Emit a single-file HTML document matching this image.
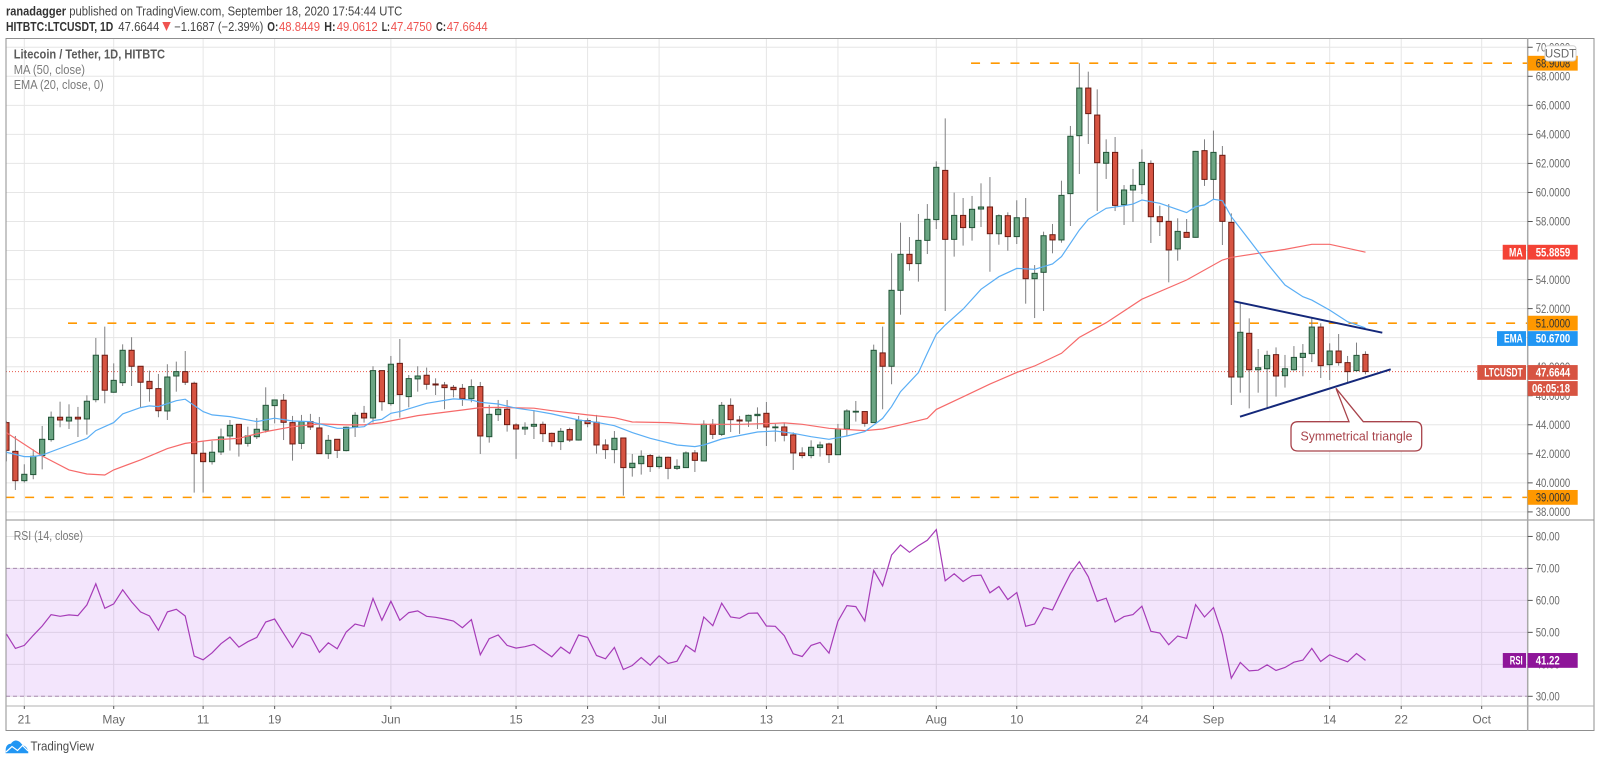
<!DOCTYPE html>
<html lang="en">
<head>
<meta charset="utf-8">
<title>LTCUSDT chart</title>
<style>
html,body{margin:0;padding:0;background:#fff;width:1600px;height:763px;overflow:hidden}
svg{display:block;filter:blur(.25px)}
text{font-family:"Liberation Sans",sans-serif}
</style>
</head>
<body>
<svg id="chart" xmlns="http://www.w3.org/2000/svg" width="1600" height="763" viewBox="0 0 1600 763">
<defs><clipPath id="plot-clip"><rect x="6.5" y="38.5" width="1521" height="481"/></clipPath></defs>
<g id="grid"></g>
<g id="rsi-band-layer"></g>
<g id="levels" clip-path="url(#plot-clip)"></g>
<g id="candles" clip-path="url(#plot-clip)"></g>
<g id="indicators" clip-path="url(#plot-clip)"></g>
<g id="rsi-layer"></g>

<g>
  <line x1="1234" y1="301.3" x2="1382.3" y2="332.7" stroke="#14287a" stroke-width="2"/>
  <line x1="1240" y1="416.7" x2="1390.7" y2="369.3" stroke="#14287a" stroke-width="2"/>
  <path d="M1298 421.7H1349L1336 388.3L1363.3 421.7H1414.7Q1421.7 421.7 1421.7 428.7V444Q1421.7 451 1414.7 451H1298Q1291 451 1291 444V428.7Q1291 421.7 1298 421.7Z" fill="#fff" stroke="#a8434b" stroke-width="1.3"/>
  <text x="1300.5" y="440.6" font-size="13" fill="#a8434b" textLength="112" lengthAdjust="spacingAndGlyphs">Symmetrical triangle</text>
</g>

<g id="frame" fill="none" stroke="#8f8f8f">
  <rect x="6" y="38.5" width="1588" height="692"/>
  <line x1="6" y1="520" x2="1594" y2="520"/>
  <line x1="6" y1="706" x2="1594" y2="706" stroke="#b0b0b0"/>
  <line x1="1527.7" y1="38.5" x2="1527.7" y2="730.5" stroke="#a8a8a8" stroke-width="1.5"/>
</g>
<g id="axes"></g>
<g id="value-labels"></g>

<g font-size="12.5">
  <text x="6" y="15.5" font-weight="bold" fill="#333" textLength="60" lengthAdjust="spacingAndGlyphs">ranadagger</text>
  <text x="69.3" y="15.5" fill="#444" textLength="333" lengthAdjust="spacingAndGlyphs">published on TradingView.com, September 18, 2020 17:54:44 UTC</text>
  <text x="6" y="30.8" font-weight="bold" fill="#333" textLength="107.3" lengthAdjust="spacingAndGlyphs">HITBTC:LTCUSDT, 1D</text>
  <text x="118.3" y="30.8" fill="#444" textLength="41" lengthAdjust="spacingAndGlyphs">47.6644</text>
  <polygon points="162.3,22 170.7,22 166.5,31" fill="#ef5350"/>
  <text x="174.3" y="30.8" fill="#444" textLength="89" lengthAdjust="spacingAndGlyphs">−1.1687 (−2.39%)</text>
  <text x="267.3" y="30.8" font-weight="bold" fill="#333" textLength="11" lengthAdjust="spacingAndGlyphs">O:</text>
  <text x="279" y="30.8" fill="#ef5350" textLength="41" lengthAdjust="spacingAndGlyphs">48.8449</text>
  <text x="324.3" y="30.8" font-weight="bold" fill="#333" textLength="11.3" lengthAdjust="spacingAndGlyphs">H:</text>
  <text x="336.7" y="30.8" fill="#ef5350" textLength="41" lengthAdjust="spacingAndGlyphs">49.0612</text>
  <text x="381.7" y="30.8" font-weight="bold" fill="#333" textLength="8.3" lengthAdjust="spacingAndGlyphs">L:</text>
  <text x="390.7" y="30.8" fill="#ef5350" textLength="41.3" lengthAdjust="spacingAndGlyphs">47.4750</text>
  <text x="436" y="30.8" font-weight="bold" fill="#333" textLength="10" lengthAdjust="spacingAndGlyphs">C:</text>
  <text x="446.7" y="30.8" fill="#ef5350" textLength="41" lengthAdjust="spacingAndGlyphs">47.6644</text>
</g>

<g font-size="12.5">
  <text x="13.7" y="58.5" font-weight="bold" fill="#5a5a5a" textLength="151.3" lengthAdjust="spacingAndGlyphs">Litecoin / Tether, 1D, HITBTC</text>
  <text x="13.7" y="73.8" fill="#7a7a7a" textLength="71.3" lengthAdjust="spacingAndGlyphs">MA (50, close)</text>
  <text x="13.7" y="89.2" fill="#7a7a7a" textLength="90" lengthAdjust="spacingAndGlyphs">EMA (20, close, 0)</text>
  <text x="13.7" y="540.2" fill="#7a7a7a" textLength="69.3" lengthAdjust="spacingAndGlyphs">RSI (14, close)</text>
</g>

<g>
  <path d="M5.7 753.3V749.5C6 745.5 8.5 743.5 11 743.8C12.5 741 15.5 739.8 18 741C20.5 741.8 21.5 744.5 23.5 745.5C26.5 746.5 28.3 749.5 28.3 753.3Z" fill="#2196f3"/>
  <path d="M6 752L12 746.5L17.5 750.5L22.5 745.5L28 751" fill="none" stroke="#fff" stroke-width="1.2"/>
  <text x="30.5" y="750.5" font-size="13" fill="#4a4a4a" textLength="63.5" lengthAdjust="spacingAndGlyphs">TradingView</text>
</g>

<script>
// Daily candles from Apr 19 to Sep 18 2020
const firstDay = -2;
const opens = [
44.15,42.17,40.15,40.57,41.88,42.98,44.52,44.26,44.52,44.40,
45.73,48.79,46.24,46.90,49.13,48.03,46.99,46.49,44.95,47.36,
47.66,46.86,42.04,41.46,42.13,43.23,44.03,42.72,43.18,43.64,
45.32,45.69,44.15,42.72,44.22,43.78,42.01,43.00,42.22,43.85,
44.79,44.47,47.73,45.46,48.23,45.94,47.16,47.41,46.81,46.74,
46.58,46.51,45.80,46.63,43.18,44.70,
45.07,43.99,43.71,43.90,44.03,43.41,42.84,43.67,42.95,44.29,
44.17,42.61,42.29,43.09,41.05,41.32,41.88,41.12,41.76,41.00,
41.05,42.06,41.51,44.03,43.34,45.34,44.33,44.26,44.63,44.79,
43.83,43.85,43.30,42.06,41.88,42.43,42.68,41.94,43.71,44.91,
44.91,44.15,48.95,48.03,
53.26,55.74,55.10,56.70,58.13,61.52,56.77,58.42,57.58,58.86,
59.00,57.16,58.40,56.96,58.26,54.06,54.50,57.09,56.73,59.92,
63.91,67.19,65.33,62.01,62.76,59.16,60.17,60.54,62.00,58.33,
58.01,56.11,57.25,56.91,62.88,60.90,62.56,
57.94,47.29,50.30,47.79,47.86,48.83,47.38,47.79,48.64,48.90,
50.73,48.14,49.08,48.28,47.73,48.8449];
const highs = [
44.28,43.23,41.28,42.31,43.92,44.91,45.59,45.41,45.23,46.03,
49.98,50.76,48.23,49.54,50.03,48.03,47.73,47.50,48.17,48.35,
49.08,46.97,42.89,42.89,43.74,44.33,44.03,43.87,44.47,46.58,
45.71,46.12,44.61,44.68,44.75,44.54,43.30,43.00,43.87,44.86,
45.30,48.03,47.73,48.74,49.91,47.43,48.03,47.94,47.20,46.95,
46.74,46.81,47.13,46.95,45.37,45.71,
45.71,44.10,44.17,45.02,44.22,43.46,43.78,43.80,44.61,44.45,
44.68,43.00,43.57,43.09,41.99,42.24,41.99,41.88,41.81,41.62,
42.17,42.26,44.31,44.40,45.57,45.82,44.61,44.70,45.20,45.57,
44.06,44.10,43.48,42.45,42.93,42.84,42.77,44.06,45.07,45.64,
44.91,49.52,50.76,55.81,
57.92,56.93,58.52,59.20,62.14,65.10,59.99,59.62,59.76,60.63,
61.06,58.49,58.63,59.46,59.62,55.00,57.30,57.83,60.81,64.58,
68.89,68.32,67.10,63.66,63.82,60.51,61.62,62.97,62.21,59.09,
59.20,58.22,58.17,62.86,63.66,64.26,63.20,
58.56,52.36,51.33,49.22,49.10,49.33,48.81,49.42,49.56,51.33,
50.99,49.61,50.25,48.74,49.66,49.0612];
const lows = [
41.48,39.51,40.02,40.25,40.93,42.84,43.83,43.71,43.16,43.32,
45.55,45.48,46.21,46.67,46.67,45.20,45.59,44.52,44.33,46.28,
46.74,39.33,39.33,41.26,41.92,42.22,41.81,42.50,43.02,43.46,
44.10,42.95,41.53,42.33,43.64,41.99,41.65,41.71,42.17,43.16,
44.15,44.15,44.97,45.32,44.49,45.20,46.28,46.42,46.05,45.07,
45.89,45.30,45.55,41.99,42.77,44.26,
43.53,41.65,43.30,43.02,42.82,42.50,42.26,42.82,42.91,43.83,
42.01,41.65,41.35,39.12,40.43,40.57,40.75,40.98,40.25,40.89,
41.03,40.75,41.51,43.02,43.23,43.50,43.37,43.85,43.71,42.54,
42.84,42.86,40.89,41.69,41.69,41.81,41.37,41.92,43.23,44.22,
43.87,44.15,45.07,46.79,
51.58,54.61,53.86,55.76,57.48,51.84,55.58,56.34,56.68,57.62,
54.54,56.40,55.99,56.45,52.34,51.35,51.84,55.81,56.54,57.69,
61.27,63.34,58.72,60.93,58.72,57.76,57.97,59.89,56.52,57.00,
53.81,55.30,56.91,56.89,60.45,59.53,56.38,
45.36,46.21,45.13,46.21,45.20,45.94,46.56,47.73,47.34,48.32,
47.22,47.08,48.07,46.85,47.66,47.475];
const closes = [
42.24,40.15,40.59,41.83,43.00,44.52,44.33,44.52,44.40,45.62,
48.79,46.38,47.06,49.13,48.03,46.93,46.49,44.97,47.29,47.66,
46.93,42.01,41.46,42.11,43.16,43.96,42.68,43.23,43.69,45.34,
45.71,44.17,42.68,44.22,43.85,42.01,42.93,42.24,43.83,44.65,
44.47,47.73,45.59,48.17,46.08,47.18,47.36,46.79,46.74,46.56,
46.42,45.80,46.63,43.23,44.72,45.07,
44.01,43.71,43.83,44.03,43.39,42.84,43.55,42.95,44.31,44.08,
42.61,42.29,43.07,41.05,41.35,41.83,41.12,41.76,41.00,41.14,
42.06,41.55,44.03,43.34,45.34,44.35,44.26,44.65,44.72,43.85,
43.85,43.28,42.06,41.88,42.45,42.61,41.94,43.71,44.95,44.93,
44.10,49.13,48.03,53.26,
55.74,55.10,56.70,58.15,61.73,56.77,58.42,57.58,58.84,59.00,
57.16,58.40,56.96,58.26,54.06,54.43,57.02,56.73,59.80,63.87,
67.19,65.43,62.05,62.76,59.11,60.17,60.49,62.07,58.33,57.99,
56.04,57.32,56.91,62.83,60.90,62.76,58.01,
47.29,50.37,47.79,47.93,48.78,47.36,47.86,48.64,48.92,50.73,
48.07,49.08,48.28,47.66,48.78,47.6644];

// RSI (14) for each candle
const rsiValues = [
49.48,44.97,45.92,49.06,51.99,55.55,55.03,55.45,55.24,58.59,
65.18,57.54,58.90,63.30,59.53,56.39,55.13,50.63,56.39,57.22,
55.13,42.57,41.41,43.61,46.44,48.53,45.39,47.07,48.43,53.25,
54.19,49.69,45.29,49.89,48.85,43.72,46.75,44.87,50.10,52.62,
51.88,60.58,53.77,59.74,53.77,56.18,56.70,55.03,54.71,54.19,
53.56,51.47,53.98,42.98,48.01,49.16,
45.92,45.08,45.50,46.23,44.24,42.36,45.39,43.40,49.16,48.43,
42.77,41.73,45.29,38.38,39.63,42.15,39.74,42.67,40.26,40.99,
45.92,43.93,54.82,52.09,59.11,54.82,54.40,55.97,56.07,51.99,
51.88,48.95,43.30,42.46,45.92,46.86,43.51,53.46,58.38,58.06,
53.56,69.37,64.55,74.19,77.33,75.03,77.12,78.80,82.15,66.12,
68.32,65.92,67.70,67.91,62.36,64.35,60.26,62.46,51.88,52.62,
57.75,57.02,62.88,68.32,72.09,67.38,59.74,60.68,53.25,54.92,
55.55,58.17,50.31,49.79,46.13,48.85,48.11,58.69,54.82,57.75,
49.27,35.65,40.58,37.96,38.17,39.84,38.06,39.01,40.68,41.31,
44.97,40.89,42.98,41.83,40.79,43.40,41.22];

// MA (50) read at its visible vertices
const maDays = [-2,2,5,7,9,10,13,16,18,21,24,27,30,33,36,38,40,44,49,51,53,57,59,63,66,68,72,75,80,84,85,87,90,94,96,98,101,102,105,108,111,113,116,118,121,125,130,134,135,138,141,144,146,150];
const maValues = [43.46,41.85,40.89,40.61,40.54,40.89,41.58,42.36,42.72,42.95,43.07,43.53,43.87,44.06,43.99,43.99,44.15,44.63,45.02,45.18,45.20,45.14,44.97,44.68,44.49,44.19,44.15,44.03,44.03,44.10,44.13,44.03,43.76,43.60,43.71,43.99,44.44,45.06,45.93,46.80,47.61,48.05,48.92,50.02,51.03,52.65,53.97,55.35,55.53,55.81,56.08,56.43,56.43,55.8859];

// EMA (20) read at its visible vertices
const emaDays = [-2,0,1,2,5,7,8,10,11,13,14,15,17,18,20,21,23,26,28,30,32,35,36,38,39,40,41,42,45,48,50,51,53,55,57,59,62,64,66,68,70,73,75,76,78,82,84,86,88,90,92,94,96,97,98,100,101,102,103,105,107,109,111,113,115,116,118,119,121,123,124,125,127,130,131,132,133,134,135,137,139,141,143,144,146,148,150];
const emaValues = [42.11,41.81,41.81,41.92,42.61,43.07,43.60,44.15,44.75,45.18,45.30,45.25,45.66,45.76,44.91,44.68,44.56,44.22,44.45,44.26,44.22,43.76,43.76,43.87,44.29,44.38,44.79,44.91,45.48,45.78,45.71,45.55,45.43,45.14,44.97,44.75,44.33,44.17,43.94,43.46,43.07,42.61,42.50,42.61,43.02,43.50,43.57,43.41,43.18,43.00,43.23,43.53,44.44,45.25,46.28,47.59,48.92,50.23,50.87,51.97,53.33,54.20,54.77,54.71,55.07,55.58,57.41,58.15,58.91,59.09,59.20,59.48,59.25,58.61,59.02,59.14,59.53,59.43,58.33,56.73,55.12,53.63,52.82,52.59,51.90,51.10,50.67];

// Axis ticks
const priceTicks = [70,68,66,64,62,60,58,56,54,52,50,48,46,44,42,40,38];
const rsiTicks = [80,70,60,50,40,30];
const timeLabels = ['21','May','11','19','Jun','15','23','Jul','13','21','Aug','10','24','Sep','14','22','Oct'];
const timeDays = [0,10,20,28,41,55,63,71,83,91,102,111,125,133,146,154,163];

// Horizontal levels (price, first day visible)
const levelPrices = [68.9008,51,39];
const levelStartDays = [106,5,-2];
const lastPrice = 47.6644;
const maLast = 55.8859;
const emaLast = 50.67;
const rsiLast = 41.22;
const countdown = '06:05:18';

// Axis functions
function xOf(day){ return 24.3 + 8.941 * day; }
function yPrice(p){ return 76.3 + (68 - p) * 14.52; }
function yRsi(r){ return 696.3 - (r - 30) * 3.197; }

const NS = 'http://www.w3.org/2000/svg';
const plotLeft = 6, plotRight = 1527.7;
function mk(tag, parent, attrs){
  const el = document.createElementNS(NS, tag);
  for (const k in attrs) el.setAttribute(k, attrs[k]);
  parent.appendChild(el);
  return el;
}
const gGrid = document.getElementById('grid');
const gBand = document.getElementById('rsi-band-layer');
const gLevels = document.getElementById('levels');
const gCandles = document.getElementById('candles');
const gInd = document.getElementById('indicators');
const gRsi = document.getElementById('rsi-layer');
const gAxes = document.getElementById('axes');
const gVals = document.getElementById('value-labels');

// Grid
priceTicks.forEach(function(t){
  const el = mk('line', gGrid, {x1:plotLeft, x2:plotRight, y1:yPrice(t), y2:yPrice(t), stroke:'#e6e6e6', 'stroke-width':1});
  
  
});
rsiTicks.forEach(function(t){
  const el = mk('line', gGrid, {x1:plotLeft, x2:plotRight, y1:yRsi(t), y2:yRsi(t), stroke:'#e6e6e6', 'stroke-width':1});
  
  
});
timeDays.forEach(function(d){
  const el = mk('line', gGrid, {x1:xOf(d), x2:xOf(d), y1:38.5, y2:706, stroke:'#e6e6e6', 'stroke-width':1});
  
  
});

// RSI band
const band = mk('rect', gBand, {x:plotLeft, y:yRsi(70), width:plotRight-plotLeft, height:yRsi(30)-yRsi(70), fill:'rgba(156,39,230,0.12)'});


[70,30].forEach(function(v){
  const el = mk('line', gBand, {x1:plotLeft, x2:plotRight, y1:yRsi(v), y2:yRsi(v), stroke:'#a88ab0', 'stroke-width':1, 'stroke-dasharray':'4 3'});
  
  
});

// Levels
levelPrices.forEach(function(p, i){
  const el = mk('line', gLevels, {x1:xOf(levelStartDays[i]) - 1, x2:plotRight, y1:yPrice(p), y2:yPrice(p), stroke:'#ff9800', 'stroke-width':1.6, 'stroke-dasharray':'9 10.7'});
  
  
});
const lastLine = mk('line', gLevels, {x1:plotLeft, x2:plotRight, y1:yPrice(lastPrice), y2:yPrice(lastPrice), stroke:'#e8574a', 'stroke-width':1, 'stroke-dasharray':'1 2'});



// Candles
closes.forEach(function(c, i){
  const o = opens[i], h = highs[i], l = lows[i];
  const x = xOf(firstDay + i);
  const up = c >= o;
  const wick = mk('line', gCandles, {x1:x, x2:x, y1:yPrice(h), y2:yPrice(l), stroke:'#808082', 'stroke-width':1});
  
  
  const top = yPrice(Math.max(o, c));
  const bot = yPrice(Math.min(o, c));
  const body = mk('rect', gCandles, {x:x-2.6, y:top, width:5.2, height:Math.max(bot-top, 0.8), fill: up ? '#6ba583' : '#d75442', stroke: up ? '#225437' : '#6b1a12', 'stroke-width':1});
  
  
});

// MA / EMA
function linePts(days, values, yFn){
  return days.map(function(d, i){ return xOf(d).toFixed(1) + ',' + yFn(values[i]).toFixed(1); }).join(' ');
}
const maLine = mk('polyline', gInd, {points:linePts(maDays, maValues, yPrice), fill:'none', stroke:'#f66a6a', 'stroke-width':1.2});


const emaLine = mk('polyline', gInd, {points:linePts(emaDays, emaValues, yPrice), fill:'none', stroke:'#5aaef5', 'stroke-width':1.2});



// RSI
const rsiDays = rsiValues.map(function(v, i){ return firstDay + i; });
const rsiLine = mk('polyline', gRsi, {points:linePts(rsiDays, rsiValues, yRsi), fill:'none', stroke:'#a63cb8', 'stroke-width':1.2});



// Axis ticks
priceTicks.forEach(function(t){
  const y = yPrice(t);
  const m = mk('line', gAxes, {x1:plotRight, x2:plotRight+5, y1:y, y2:y, stroke:'#555', 'stroke-width':1});
  
  
  const s = mk('text', gAxes, {x:1535.7, y:y+4.2, 'font-size':12, fill:'#6a6a6a', textLength:34.5, lengthAdjust:'spacingAndGlyphs'});
  s.textContent = t.toFixed(4);
  
  
});
rsiTicks.forEach(function(t){
  const y = yRsi(t);
  const m = mk('line', gAxes, {x1:plotRight, x2:plotRight+5, y1:y, y2:y, stroke:'#555', 'stroke-width':1});
  
  
  const s = mk('text', gAxes, {x:1535.7, y:y+4.2, 'font-size':12, fill:'#6a6a6a', textLength:24, lengthAdjust:'spacingAndGlyphs'});
  s.textContent = t.toFixed(2);
  
  
});
timeLabels.forEach(function(lbl, i){
  const x = xOf(timeDays[i]);
  const m = mk('line', gAxes, {x1:x, x2:x, y1:706, y2:709, stroke:'#555', 'stroke-width':1});
  
  
  const s = mk('text', gAxes, {x:x, y:723.5, 'font-size':12, fill:'#6a6a6a', 'text-anchor':'middle'});
  s.textContent = lbl;
  
  
});

// Value labels on the axis
function valueBox(cy, text, fill, color, name, bold, textW, textX){
  const r = mk('rect', gVals, {x:plotRight, y:cy-7.4, width:50, height:14.8, fill:fill});
  
  
  const t = mk('text', gVals, {x:textX || 1535.7, y:cy+4.2, 'font-size':12, fill:color, textLength:textW || 34.5, lengthAdjust:'spacingAndGlyphs', 'font-weight': bold ? 'bold' : 'normal'});
  t.textContent = text;
  
  
}
function tagBox(cy, left, text, fill, name, textW){
  const r = mk('rect', gVals, {x:left, y:cy-7.4, width:1526-left, height:14.8, fill:fill});
  
  
  const t = mk('text', gVals, {x:1522.7-textW, y:cy+4.2, 'font-size':12, 'font-weight':'bold', fill:'#fff', textLength:textW, lengthAdjust:'spacingAndGlyphs'});
  t.textContent = text;
  
  
}
levelPrices.forEach(function(p){
  valueBox(yPrice(p), p.toFixed(4), '#ff9800', '#333', 'level-label', false);
});
tagBox(yPrice(maLast), 1502.7, 'MA', '#f44336', 'ma', 13.7);
valueBox(yPrice(maLast), maLast.toFixed(4), '#f44336', '#fff', 'ma-label', true);
const emaLabelY = yPrice(51) + 15.4;
tagBox(emaLabelY, 1497, 'EMA', '#2196f3', 'ema', 18.7);
valueBox(emaLabelY, emaLast.toFixed(4), '#2196f3', '#fff', 'ema-label', true);
const lastLabelY = yPrice(lastPrice) + 0.9;
tagBox(lastLabelY, 1477.3, 'LTCUSDT', '#d75442', 'symbol', 38.4);
valueBox(lastLabelY, lastPrice.toFixed(4), '#d75442', '#fff', 'last-price-label', true);
valueBox(lastLabelY + 16, countdown, '#d75442', '#fff', 'countdown-label', true, 38, 1532);
tagBox(yRsi(rsiLast), 1502.8, 'RSI', '#8e1599', 'rsi', 13);
valueBox(yRsi(rsiLast), rsiLast.toFixed(2), '#8e1599', '#fff', 'rsi-label', true, 24);

// Currency tag
const usdBox = mk('rect', gVals, {x:1545, y:45.7, width:31, height:15.3, rx:3, fill:'#fff', stroke:'#d0d0d0'});


const usdText = mk('text', gVals, {x:1560.5, y:57.3, 'font-size':11.5, fill:'#666', 'text-anchor':'middle'});
usdText.textContent = 'USDT';


</script>
</svg>
</body>
</html>
